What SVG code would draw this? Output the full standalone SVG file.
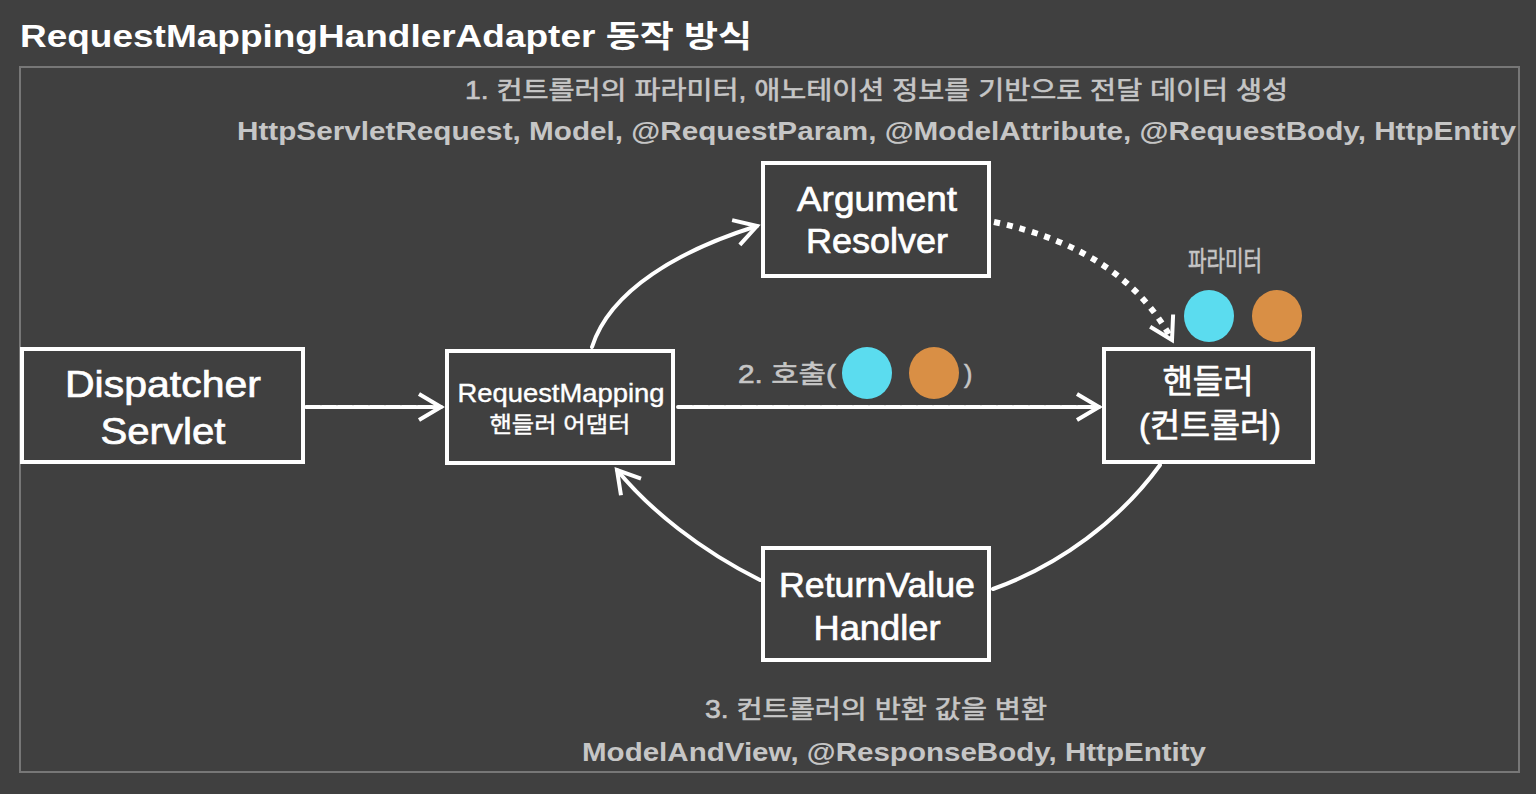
<svg xmlns="http://www.w3.org/2000/svg" width="1536" height="794" viewBox="0 0 1536 794">
<style>
.bg{fill:#404040}
.frame{fill:none;stroke:#777;stroke-width:2}
.box{fill:#404040;stroke:#fff;stroke-width:4}
.t{font-family:"Liberation Sans","Noto Sans CJK KR",sans-serif;fill:#fff;text-anchor:middle;stroke:#fff;stroke-width:0.7}
.g{font-family:"Liberation Sans","Noto Sans CJK KR",sans-serif;fill:#c6c6c6;font-weight:bold}
.k{font-family:"Liberation Sans","Noto Sans CJK KR",sans-serif;fill:#c6c6c6;stroke:#c6c6c6;stroke-width:0.6}
.ln{fill:none;stroke:#fff;stroke-width:4;stroke-linecap:round}
.sk{stroke-dasharray:14 2}
.dot{fill:none;stroke:#fff;stroke-width:6;stroke-dasharray:6 7}
.cy{fill:#5bdcef}
.or{fill:#d98f45}
</style>
<defs>
<marker id="arr" markerUnits="userSpaceOnUse" markerWidth="34" markerHeight="34" refX="29" refY="17" orient="auto">
<path d="M7,4 L29,17 L7,30" fill="none" stroke="#fff" stroke-width="4" stroke-linejoin="miter"/>
</marker>
</defs>
<rect class="bg" x="0" y="0" width="1536" height="794"/>
<text x="20" y="47" font-family="'Liberation Sans','Noto Sans CJK KR',sans-serif" font-weight="bold" font-size="31" fill="#fff" textLength="732" lengthAdjust="spacingAndGlyphs">RequestMappingHandlerAdapter 동작 방식</text>
<rect class="frame" x="20" y="67" width="1499" height="705"/>
<text class="k" x="465" y="99" font-size="25" textLength="823" lengthAdjust="spacingAndGlyphs">1. 컨트롤러의 파라미터, 애노테이션 정보를 기반으로 전달 데이터 생성</text>
<text class="g" x="237" y="140" font-size="26" textLength="1279" lengthAdjust="spacingAndGlyphs">HttpServletRequest, Model, @RequestParam, @ModelAttribute, @RequestBody, HttpEntity</text>
<text class="k" x="705" y="718" font-size="25" textLength="342" lengthAdjust="spacingAndGlyphs">3. 컨트롤러의 반환 값을 변환</text>
<text class="g" x="582" y="761" font-size="26" textLength="624" lengthAdjust="spacingAndGlyphs">ModelAndView, @ResponseBody, HttpEntity</text>
<g id="connectors">
<path class="ln sk" d="M306,407 L441,407" marker-end="url(#arr)"/>
<path class="ln sk" d="M678,407 L1099,407" marker-end="url(#arr)"/>
<path class="ln" d="M592,347 C610,290 680,250 757,226" marker-end="url(#arr)"/>
<path class="dot" d="M994,222 C1080,240 1140,280 1172,340" marker-end="url(#arr)"/>
<path class="ln" d="M1160,465 C1120,520 1060,565 993,589"/>
<path class="ln" d="M760,580 C700,550 650,510 617,470" marker-end="url(#arr)"/>
</g>
<g id="call-label">
<text class="k" x="738" y="383" font-size="25" textLength="98" lengthAdjust="spacingAndGlyphs">2. 호출(</text>
<ellipse class="cy" cx="867" cy="373" rx="25" ry="26"/>
<ellipse class="or" cx="934" cy="373" rx="25" ry="26"/>
<text class="k" x="964" y="383" font-size="25">)</text>
</g>
<g id="params">
<text class="k" x="1188" y="271" font-size="27" textLength="74" lengthAdjust="spacingAndGlyphs">파라미터</text>
<ellipse class="cy" cx="1209" cy="316" rx="25" ry="26"/>
<ellipse class="or" cx="1277" cy="316" rx="25" ry="26"/>
</g>
<g id="dispatcher">
<rect class="box" x="22" y="349" width="281" height="113"/>
<text class="t" x="163" y="397" font-size="37" textLength="196" lengthAdjust="spacingAndGlyphs">Dispatcher</text>
<text class="t" x="163" y="444" font-size="37" textLength="125" lengthAdjust="spacingAndGlyphs">Servlet</text>
</g>
<g id="adapter">
<rect class="box" x="447" y="351" width="226" height="112"/>
<text class="t" x="561" y="402" font-size="25" textLength="207" lengthAdjust="spacingAndGlyphs" style="stroke-width:0.4">RequestMapping</text>
<text class="t" x="560" y="432" font-size="22" textLength="141" lengthAdjust="spacingAndGlyphs" style="stroke-width:0.4">핸들러 어댑터</text>
</g>
<g id="argument-resolver">
<rect class="box" x="763" y="163" width="226" height="113"/>
<text class="t" x="877" y="211" font-size="35" textLength="160" lengthAdjust="spacingAndGlyphs">Argument</text>
<text class="t" x="877" y="253" font-size="35" textLength="142" lengthAdjust="spacingAndGlyphs">Resolver</text>
</g>
<g id="handler">
<rect class="box" x="1104" y="349" width="209" height="113"/>
<text class="t" x="1208" y="393" font-size="33" textLength="91" lengthAdjust="spacingAndGlyphs">핸들러</text>
<text class="t" x="1210" y="437" font-size="33" textLength="142" lengthAdjust="spacingAndGlyphs">(컨트롤러)</text>
</g>
<g id="returnvalue-handler">
<rect class="box" x="763" y="548" width="226" height="112"/>
<text class="t" x="877" y="597" font-size="35" textLength="196" lengthAdjust="spacingAndGlyphs">ReturnValue</text>
<text class="t" x="877" y="640" font-size="35" textLength="127" lengthAdjust="spacingAndGlyphs">Handler</text>
</g>
</svg>
